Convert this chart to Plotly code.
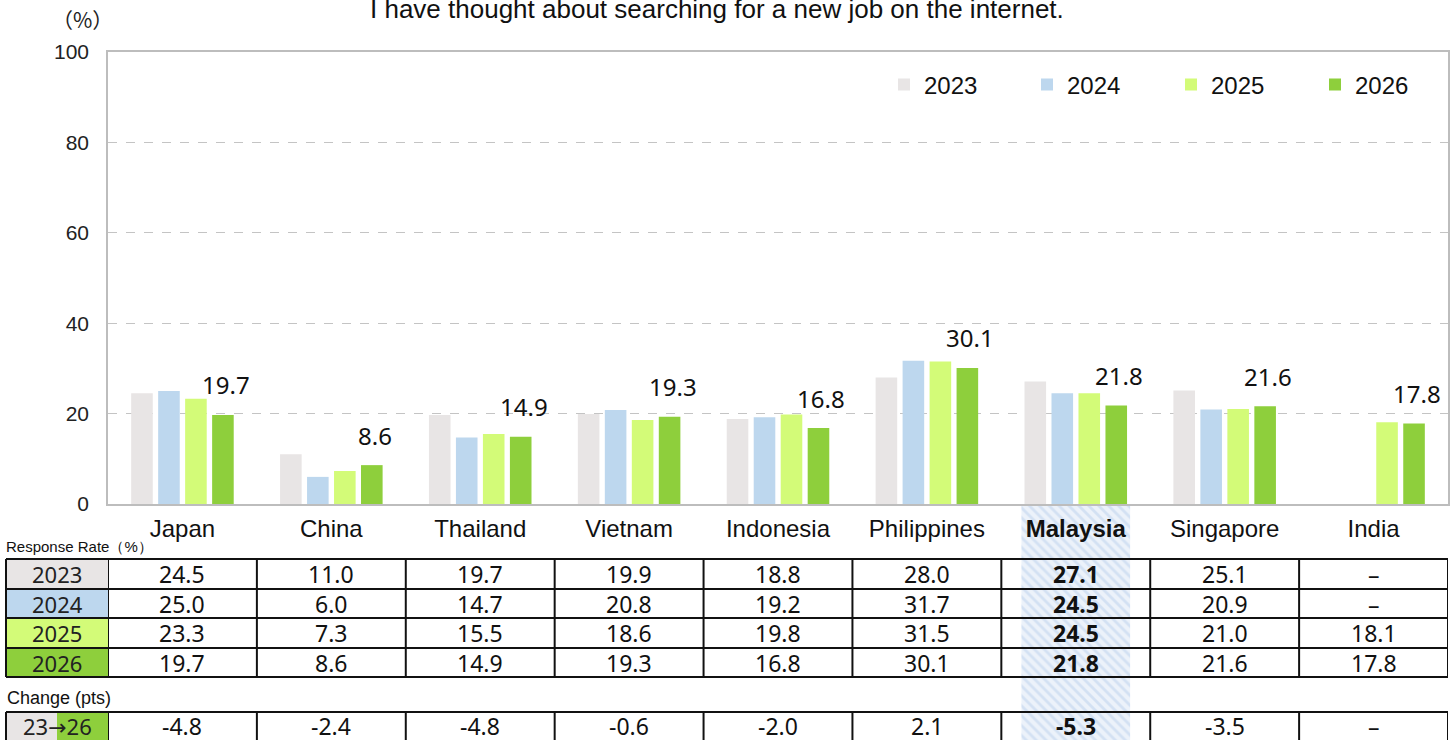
import plotly.graph_objects as go

W, H = 1454, 740


def px(x):
    return x / W


def py(y):
    return 1 - y / H


# ---------------- data ----------------
countries = ["Japan", "China", "Thailand", "Vietnam", "Indonesia",
             "Philippines", "Malaysia", "Singapore", "India"]
years = ["2023", "2024", "2025", "2026"]
v2023 = [24.5, 11.0, 19.7, 19.9, 18.8, 28.0, 27.1, 25.1, None]
v2024 = [25.0, 6.0, 14.7, 20.8, 19.2, 31.7, 24.5, 20.9, None]
v2025 = [23.3, 7.3, 15.5, 18.6, 19.8, 31.5, 24.5, 21.0, 18.1]
v2026 = [19.7, 8.6, 14.9, 19.3, 16.8, 30.1, 21.8, 21.6, 17.8]
change = [-4.8, -2.4, -4.8, -0.6, -2.0, 2.1, -5.3, -3.5, None]
highlight = "Malaysia"
title = "I have thought about searching for a new job on the internet."
ytick_vals = [0, 20, 40, 60, 80, 100]

series = [v2023, v2024, v2025, v2026]
colors = ["#E8E5E5", "#BDD7EE", "#D3FB78", "#8ECF3C"]

# ---------------- style ----------------
LAT = "Liberation Sans, Arial, sans-serif"
NOTO = "Noto Sans, DejaVu Sans, sans-serif"
BARGAP = 0.275
GROUPGAP = 0.2
legend_text_x = [925, 1068, 1212, 1356]   # left edge of legend labels (px)

fig = go.Figure()

# highlight hatch behind Malaysia column (table area) -- first subplot (drawn underneath)
fig.add_trace(go.Bar(
    x=[highlight], y=[1], xaxis="x", yaxis="y", width=0.73,
    marker=dict(color="#ECF2FA", line_width=0,
                pattern=dict(shape="\\", fgcolor="#B9CFEC", bgcolor="#ECF2FA",
                             size=7, solidity=0.4)),
    showlegend=False, hoverinfo="skip"))

legend_names = ["legend", "legend2", "legend3", "legend4"]
for yr, vals, c, lg in zip(years, series, colors, legend_names):
    fig.add_trace(go.Bar(x=countries, y=vals, name=yr, marker_color=c,
                         marker_line_width=0, xaxis="x2", yaxis="y2",
                         legend=lg))

ann = []

# data labels for the latest year
n = len(years)
cat_px = (1448 - 108) / len(countries)
slot = cat_px * (1 - BARGAP) / n
last_shift = (n - 1 - (n - 1) / 2) * slot
for ctry, v in zip(countries, v2026):
    if v is None:
        continue
    ann.append(dict(x=ctry, y=v, xref="x2", yref="y2", text=f"{v:.1f}",
                    showarrow=False, xshift=last_shift + 3, yshift=30,
                    xanchor="center", yanchor="middle",
                    font=dict(family=NOTO, size=24, color="#111")))

# title and small labels
ann.append(dict(x=px(717), y=py(9), xref="paper", yref="paper", text=title,
                showarrow=False, xanchor="center", yanchor="middle",
                font=dict(family=LAT, size=26, color="#111")))
ann.append(dict(x=px(82), y=py(19), xref="paper", yref="paper", text="（%）",
                showarrow=False, xanchor="center", yanchor="middle",
                font=dict(family="Noto Sans CJK JP", size=21, color="#222")))
ann.append(dict(x=px(4), y=py(546), xref="paper", yref="paper",
                text="Response Rate（%）", showarrow=False, xanchor="left",
                yanchor="middle", font=dict(family=LAT, size=15, color="#111")))
ann.append(dict(x=px(5), y=py(698), xref="paper", yref="paper",
                text="Change (pts)", showarrow=False, xanchor="left",
                yanchor="middle", font=dict(family=LAT, size=18, color="#111")))

# ---------------- table ----------------
row_y = [559, 589, 618, 648, 677]
chg_top, chg_bot = 712, 745
LEFT = 6
LINE = dict(color="#111", width=2)
shapes = []

for i, (yr, c) in enumerate(zip(years, colors)):
    shapes.append(dict(type="rect", xref="paper", yref="paper",
                       x0=px(LEFT), x1=px(108), y0=py(row_y[i + 1]), y1=py(row_y[i]),
                       fillcolor=c, line_width=0, layer="above"))
    yc = py((row_y[i] + row_y[i + 1]) / 2)
    ann.append(dict(x=px((LEFT + 108) / 2), y=yc, xref="paper", yref="paper",
                    text=yr, showarrow=False, xanchor="center", yanchor="middle",
                    font=dict(family=NOTO, size=22, color="#222")))
    for ctry, v in zip(countries, series[i]):
        t = "–" if v is None else f"{v:.1f}"
        if ctry == highlight:
            t = f"<b>{t}</b>"
        ann.append(dict(x=ctry, y=yc, xref="x2", yref="paper", text=t,
                        showarrow=False, xanchor="center", yanchor="middle",
                        font=dict(family=NOTO, size=23, color="#111")))

# change row label cell (split colours)
mid = (LEFT + 108) / 2
shapes.append(dict(type="rect", xref="paper", yref="paper", x0=px(LEFT), x1=px(mid),
                   y0=py(chg_bot), y1=py(chg_top), fillcolor=colors[0],
                   line_width=0, layer="above"))
shapes.append(dict(type="rect", xref="paper", yref="paper", x0=px(mid), x1=px(108),
                   y0=py(chg_bot), y1=py(chg_top), fillcolor=colors[3],
                   line_width=0, layer="above"))
ycc = py((chg_top + 740) / 2)
ann.append(dict(x=px(mid), y=ycc, xref="paper", yref="paper",
                text=f"{years[0][2:]}→{years[-1][2:]}", showarrow=False,
                xanchor="center", yanchor="middle",
                font=dict(family=NOTO, size=22, color="#222")))
for ctry, v in zip(countries, change):
    t = "–" if v is None else f"{v:.1f}"
    if ctry == highlight:
        t = f"<b>{t}</b>"
    ann.append(dict(x=ctry, y=ycc, xref="x2", yref="paper", text=t,
                    showarrow=False, xanchor="center", yanchor="middle",
                    font=dict(family=NOTO, size=23, color="#111")))

# horizontal lines
for yy in row_y + [chg_top]:
    shapes.append(dict(type="line", xref="paper", yref="paper",
                       x0=px(LEFT), x1=px(1448), y0=py(yy), y1=py(yy),
                       line=LINE, layer="above"))
# vertical lines
for (top, bot) in [(row_y[0], row_y[-1]), (chg_top, chg_bot)]:
    shapes.append(dict(type="line", xref="paper", yref="paper",
                       x0=px(LEFT), x1=px(LEFT), y0=py(bot), y1=py(top),
                       line=LINE, layer="above"))
    for k in range(len(countries) + 1):
        shapes.append(dict(type="line", xref="x2", yref="paper",
                           x0=k - 0.5, x1=k - 0.5, y0=py(bot), y1=py(top),
                           line=LINE, layer="above"))

ticktext = [f"<b>{c}</b>" if c == highlight else c for c in countries]

legend_common = dict(orientation="h", xanchor="left", yanchor="middle",
                     y=py(85), bgcolor="rgba(0,0,0,0)", itemwidth=30,
                     font=dict(family=LAT, size=24, color="#111"))
legends = {}
for lg, tx in zip(legend_names, legend_text_x):
    legends[lg] = dict(legend_common, x=px(tx - 41))

fig.update_layout(
    width=W, height=H, autosize=False,
    margin=dict(l=0, r=0, t=0, b=0, autoexpand=False),
    paper_bgcolor="white", plot_bgcolor="rgba(0,0,0,0)",
    barmode="group", bargap=BARGAP, bargroupgap=GROUPGAP,
    showlegend=True,
    xaxis2=dict(domain=[px(108), px(1448)], type="category",
                categoryorder="array", categoryarray=countries,
                range=[-0.5, len(countries) - 0.5],
                tickvals=countries, ticktext=ticktext, ticks="",
                tickfont=dict(family=LAT, size=24, color="#111"),
                ticklabelstandoff=2, automargin=False,
                showline=True, linecolor="#BDBDBD", linewidth=1.5, mirror=True,
                showgrid=False, anchor="y2", fixedrange=True),
    yaxis2=dict(domain=[py(504), py(52)], range=[0, 100],
                tickvals=ytick_vals, ticks="",
                tickfont=dict(family=LAT, size=21, color="#222"),
                ticklabelstandoff=13, automargin=False,
                showgrid=True, gridcolor="#C4C4C4", gridwidth=1, griddash="dash",
                zeroline=False,
                showline=True, linecolor="#BDBDBD", linewidth=1.5, mirror=True,
                anchor="x2", fixedrange=True),
    xaxis=dict(domain=[px(108), px(1448)], type="category",
               categoryorder="array", categoryarray=countries,
               range=[-0.5, len(countries) - 0.5], visible=False,
               automargin=False, anchor="y", fixedrange=True),
    yaxis=dict(domain=[0, py(505)], range=[0, 1], visible=False,
               automargin=False, anchor="x", fixedrange=True),
    annotations=ann,
    shapes=shapes,
    **legends,
)

fig.write_html("out.html", config={"displayModeBar": False})
